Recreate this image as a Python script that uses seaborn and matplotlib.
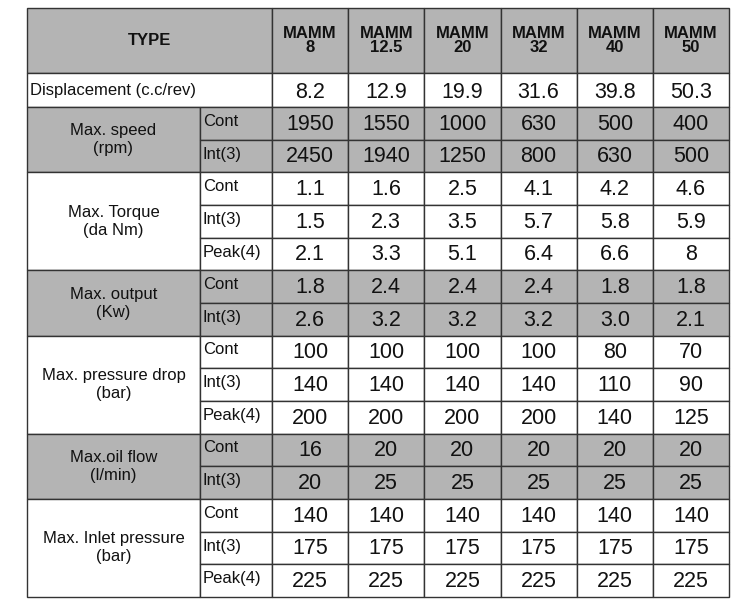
import matplotlib
matplotlib.use('Agg')
import matplotlib.pyplot as plt
import seaborn as sns

sns.set_theme(style='white')
plt.rcParams['font.family'] = ['Liberation Sans', 'DejaVu Sans']

models = ['MAMM\n8', 'MAMM\n12.5', 'MAMM\n20', 'MAMM\n32', 'MAMM\n40', 'MAMM\n50']
displacement = ['8.2', '12.9', '19.9', '31.6', '39.8', '50.3']
groups = ['Max. speed\n(rpm)', 'Max. Torque\n(da Nm)', 'Max. output\n(Kw)',
          'Max. pressure drop\n(bar)', 'Max.oil flow\n(l/min)', 'Max. Inlet pressure\n(bar)']
group_gray = [True, False, True, False, True, False]
sub_rows = [['Cont', 'Int(3)'], ['Cont', 'Int(3)', 'Peak(4)'], ['Cont', 'Int(3)'],
            ['Cont', 'Int(3)', 'Peak(4)'], ['Cont', 'Int(3)'], ['Cont', 'Int(3)', 'Peak(4)']]
speed = [['1950', '1550', '1000', '630', '500', '400'],
         ['2450', '1940', '1250', '800', '630', '500']]
torque = [['1.1', '1.6', '2.5', '4.1', '4.2', '4.6'],
          ['1.5', '2.3', '3.5', '5.7', '5.8', '5.9'],
          ['2.1', '3.3', '5.1', '6.4', '6.6', '8']]
output = [['1.8', '2.4', '2.4', '2.4', '1.8', '1.8'],
          ['2.6', '3.2', '3.2', '3.2', '3.0', '2.1']]
pressure = [['100', '100', '100', '100', '80', '70'],
            ['140', '140', '140', '140', '110', '90'],
            ['200', '200', '200', '200', '140', '125']]
oil_flow = [['16', '20', '20', '20', '20', '20'],
            ['20', '25', '25', '25', '25', '25']]
inlet = [['140', '140', '140', '140', '140', '140'],
         ['175', '175', '175', '175', '175', '175'],
         ['225', '225', '225', '225', '225', '225']]
group_values = [speed, torque, output, pressure, oil_flow, inlet]

GRAY = '#b4b4b4'
LINE = '#333333'
x0, xsub, xval, x1 = 27, 200, 272, 729
col_w = (x1 - xval) / 6
y_top, y_head, y_disp = 8, 73, 107
row_h = (597 - y_disp) / 15

fig = plt.figure(figsize=(7.5, 6.14), dpi=100)
ax = fig.add_axes([0, 0, 1, 1])
ax.set_xlim(0, 750)
ax.set_ylim(614, 0)
ax.axis('off')

def cell(x, y, w, h, color):
    ax.add_patch(plt.Rectangle((x, y), w, h, facecolor=color, edgecolor=LINE, lw=1))

# header
cell(x0, y_top, xval - x0, y_head - y_top, GRAY)
ax.text((x0 + xval) / 2, (y_top + y_head) / 2, 'TYPE', ha='center', va='center',
        fontsize=12, fontweight='bold', color='#111')
for i, m in enumerate(models):
    cx = xval + i * col_w
    cell(cx, y_top, col_w, y_head - y_top, GRAY)
    ax.text(cx + col_w / 2, (y_top + y_head) / 2, m, ha='center', va='center',
            fontsize=12, fontweight='bold', color='#111', linespacing=1.0)

# displacement
cell(x0, y_head, xval - x0, y_disp - y_head, 'white')
ax.text(x0 + 3, (y_head + y_disp) / 2, 'Displacement (c.c/rev)', ha='left', va='center',
        fontsize=12, color='#111')
for i, v in enumerate(displacement):
    cx = xval + i * col_w
    cell(cx, y_head, col_w, y_disp - y_head, 'white')
    ax.text(cx + col_w / 2, (y_head + y_disp) / 2 + 2, v, ha='center', va='center',
            fontsize=15.5, color='#111')

y = y_disp
for g, gray, subs, vals in zip(groups, group_gray, sub_rows, group_values):
    color = GRAY if gray else 'white'
    h = row_h * len(subs)
    cell(x0, y, xsub - x0, h, color)
    ax.text((x0 + xsub) / 2, y + h / 2, g, ha='center', va='center', fontsize=12,
            color='#111', linespacing=1.25)
    for r, (s, row) in enumerate(zip(subs, vals)):
        ry = y + r * row_h
        cell(xsub, ry, xval - xsub, row_h, color)
        ax.text(xsub + 3, ry + row_h / 2 - 2, s, ha='left', va='center', fontsize=12, color='#111')
        for i, v in enumerate(row):
            cx = xval + i * col_w
            cell(cx, ry, col_w, row_h, color)
            ax.text(cx + col_w / 2, ry + row_h / 2 + 1, v, ha='center', va='center',
                    fontsize=15.5, color='#111')
    y += h

fig.savefig('out.png', dpi=100, facecolor='white')
